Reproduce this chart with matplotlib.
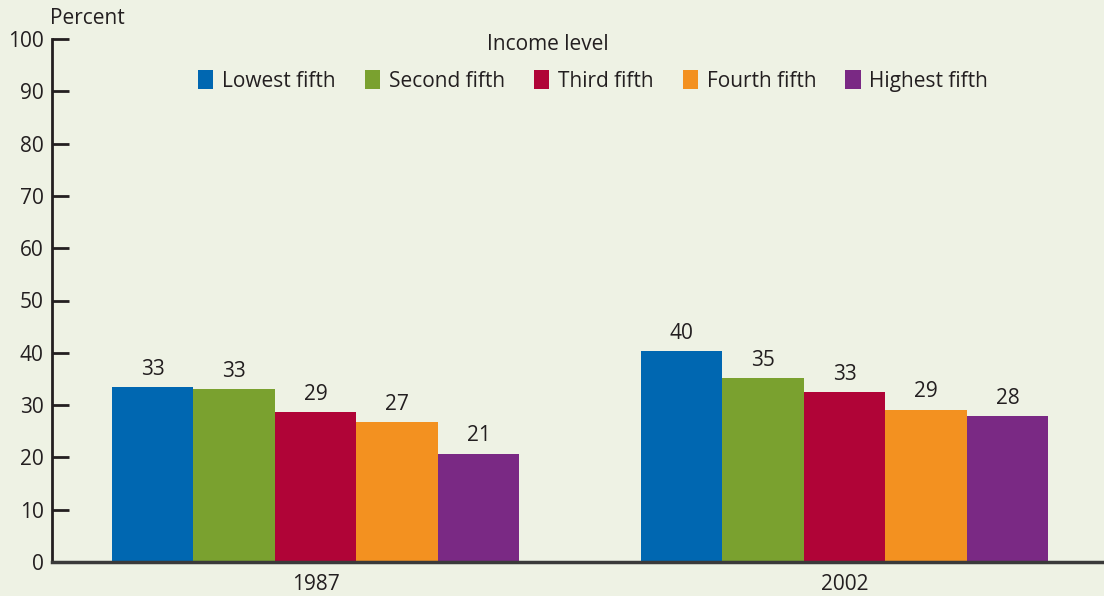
import numpy as np
import matplotlib.pyplot as plt

years = ['1987', '2002']
groups = ['Lowest fifth', 'Second fifth', 'Third fifth', 'Fourth fifth', 'Highest fifth']
colors = ['#0067b1', '#7aa12f', '#b00437', '#f39120', '#7a2984']

# values per income group: [1987, 2002]
lowest = [33.4, 40.3]
second = [33.1, 35.2]
third = [28.7, 32.5]
fourth = [26.8, 29.1]
highest = [20.7, 27.9]
labels = [['33', '40'], ['33', '35'], ['29', '33'], ['27', '29'], ['21', '28']]

series = [lowest, second, third, fourth, highest]

plt.rcParams['font.family'] = ['Open Sans', 'DejaVu Sans']
bg = '#eef2e4'
fs = 15

fig = plt.figure(figsize=(11.04, 5.96), dpi=100, facecolor=bg)
ax = fig.add_axes([52 / 1104, 34 / 596, 1 - 52 / 1104, 523 / 596])
ax.set_facecolor(bg)

x = np.arange(len(years))
w = 0.154
for i, vals in enumerate(series):
    pos = x + (i - 2) * w
    ax.bar(pos, vals, width=w, color=colors[i], label=groups[i], linewidth=0)
    for p, v, lab in zip(pos, vals, labels[i]):
        ax.text(p, v + 1.4, lab, ha='center', va='bottom', fontsize=fs, color='#231f20')

ax.set_xlim(-0.498, 1.49)
ax.set_ylim(0, 100)
ax.set_yticks(range(0, 101, 10))
ax.set_xticks(x)
ax.set_xticklabels(years)
ax.tick_params(axis='y', direction='in', length=12, width=2, color='#231f20',
               labelsize=fs, labelcolor='#231f20', pad=6)
ax.tick_params(axis='x', length=0, labelsize=fs, labelcolor='#231f20', pad=9)

for s in ['top', 'right']:
    ax.spines[s].set_visible(False)
ax.spines['left'].set_linewidth(2)
ax.spines['left'].set_color('#231f20')
ax.spines['bottom'].set_linewidth(2.5)
ax.spines['bottom'].set_color('#3a3a3a')

fig.text(50 / 1104, 1 - 18 / 596, 'Percent', ha='left', va='center', fontsize=fs, color='#231f20')
fig.text(548 / 1104, 1 - 45 / 596, 'Income level', ha='center', va='center', fontsize=fs, color='#231f20')

fig.legend(loc='center', bbox_to_anchor=(593 / 1104, 1 - 81 / 596), ncol=5, frameon=False,
           fontsize=fs, handlelength=0.75, handleheight=1.0, handletextpad=0.4,
           columnspacing=1.4, labelcolor='#231f20')

fig.savefig('out.png', dpi=100, facecolor=bg)
